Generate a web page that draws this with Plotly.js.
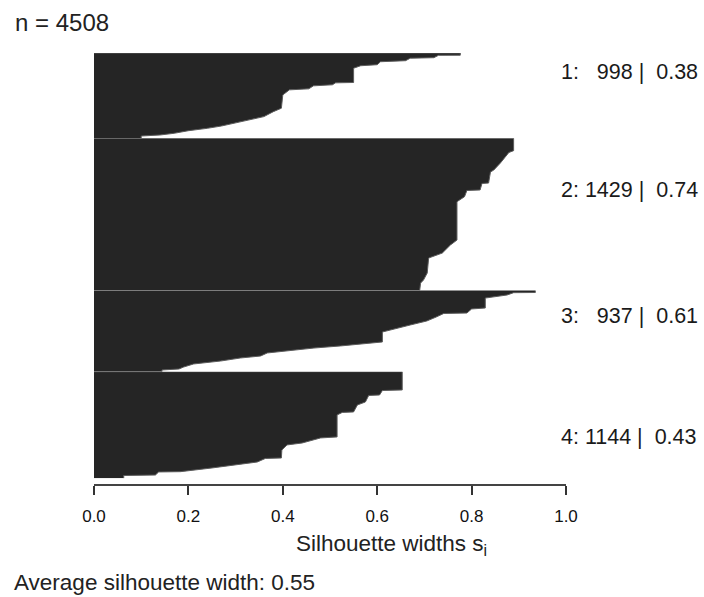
<!DOCTYPE html>
<html>
<head>
<meta charset="utf-8">
<script src="https://cdn.plot.ly/plotly-3.0.1.min.js"></script>
<style>html,body{margin:0;padding:0;background:#fff;}#chart{width:704px;height:597px;}</style>
</head>
<body>
<div id="chart"></div>
<script>
// ---- data ----
const clusterIds = [1, 2, 3, 4];
const clusterSizes = [998, 1429, 937, 1144];
const clusterAvg = [0.38, 0.74, 0.61, 0.43];
const totalN = 4508;
const avgWidth = 0.55;

// silhouette width profile (sorted, descending) read at observation ranks
const c1Rank  = [0, 26, 27, 55, 61, 90, 102, 137, 149, 178, 345, 349, 372, 384, 419, 431, 490, 646, 686, 744, 783, 822, 854, 881, 909, 939, 959, 971, 998];
const c1Width = [0.776, 0.776, 0.73, 0.72, 0.67, 0.66, 0.607, 0.60, 0.565, 0.55, 0.55, 0.512, 0.505, 0.465, 0.455, 0.414, 0.40, 0.397, 0.38, 0.36, 0.33, 0.30, 0.27, 0.24, 0.20, 0.17, 0.14, 0.10, 0.10];

const c2Rank  = [0, 116, 133, 232, 298, 316, 420, 424, 485, 490, 548, 595, 955, 1002, 1077, 1124, 1265, 1331, 1359, 1429];
const c2Width = [0.889, 0.889, 0.879, 0.861, 0.847, 0.84, 0.836, 0.822, 0.818, 0.79, 0.785, 0.769, 0.769, 0.755, 0.738, 0.709, 0.706, 0.698, 0.692, 0.69];

const c3Rank  = [0, 23, 25, 52, 87, 202, 213, 260, 265, 306, 352, 398, 444, 479, 594, 617, 640, 664, 687, 721, 756, 779, 814, 848, 883, 906, 917, 937];
const c3Width = [0.935, 0.935, 0.889, 0.875, 0.829, 0.829, 0.80, 0.79, 0.741, 0.725, 0.705, 0.67, 0.635, 0.611, 0.611, 0.571, 0.522, 0.466, 0.423, 0.367, 0.353, 0.31, 0.268, 0.211, 0.19, 0.18, 0.144, 0.144];

const c4Rank  = [0, 196, 202, 250, 255, 325, 357, 432, 437, 464, 700, 711, 733, 765, 786, 840, 926, 931, 969, 1001, 1033, 1073, 1076, 1109, 1114, 1144];
const c4Width = [0.653, 0.653, 0.611, 0.605, 0.582, 0.575, 0.558, 0.55, 0.526, 0.515, 0.515, 0.48, 0.466, 0.441, 0.409, 0.398, 0.397, 0.363, 0.346, 0.30, 0.25, 0.183, 0.137, 0.13, 0.063, 0.063];

const xTickVals = [0, 0.2, 0.4, 0.6, 0.8, 1.0];
const xTickText = ['0.0', '0.2', '0.4', '0.6', '0.8', '1.0'];

// ---- layout helpers ----
const ranks = [c1Rank, c2Rank, c3Rank, c4Rank];
const widths = [c1Width, c2Width, c3Width, c4Width];
const domains = [[0.8025, 1.0], [0.4502, 0.8025], [0.2623, 0.4502], [0.0155, 0.2623]];
const labelY = [0.956, 0.683, 0.391, 0.111];

const traces = clusterIds.map((id, i) => ({
  type: 'scatter',
  mode: 'lines',
  x: [0].concat(widths[i]),
  y: [0].concat(ranks[i]),
  yaxis: i === 0 ? 'y' : 'y' + (i + 1),
  fill: 'tozerox',
  fillcolor: '#252525',
  line: {color: '#5c5c5c', width: 1},
  hoverinfo: 'skip',
  showlegend: false
}));

const layout = {
  width: 704, height: 597,
  margin: {l: 94, r: 138, t: 53, b: 112, pad: 0},
  paper_bgcolor: '#ffffff', plot_bgcolor: '#ffffff',
  showlegend: false,
  font: {family: 'Liberation Sans, Arial, sans-serif', color: '#111'},
  xaxis: {
    range: [0, 1], anchor: 'free', position: 0,
    showgrid: false, zeroline: false,
    showline: true, linecolor: '#444', linewidth: 2,
    ticks: 'outside', ticklen: 9, tickwidth: 2, tickcolor: '#333',
    tickvals: xTickVals, ticktext: xTickText,
    ticklabelstandoff: 7,
    tickfont: {family: 'Liberation Sans Narrow, Liberation Sans, Arial, sans-serif', size: 17, color: '#111'}
  },
  annotations: []
};

clusterIds.forEach((id, i) => {
  const key = i === 0 ? 'yaxis' : 'yaxis' + (i + 1);
  layout[key] = {
    domain: domains[i], range: [clusterSizes[i], 0],
    visible: false, fixedrange: true
  };
  const nStr = String(clusterSizes[i]);
  const pad = ' '.repeat(1 + 2 * (4 - nStr.length));
  layout.annotations.push({
    xref: 'paper', yref: 'paper', x: 0.985, y: labelY[i],
    xanchor: 'left', yanchor: 'middle', showarrow: false,
    text: (id + ':' + pad + nStr + ' |  ' + clusterAvg[i].toFixed(2)).replace(/ /g, '&nbsp;'),
    font: {size: 21.5, color: '#1a1a1a', family: 'Liberation Sans, Arial, sans-serif'}
  });
});

layout.annotations.push({
  xref: 'paper', yref: 'paper', x: -0.171, y: 1.07,
  xanchor: 'left', yanchor: 'middle', showarrow: false,
  text: 'n = ' + totalN,
  font: {size: 24, color: '#222'}
});
layout.annotations.push({
  xref: 'paper', yref: 'paper', x: 0.424, y: -0.139,
  xanchor: 'left', yanchor: 'middle', showarrow: false,
  text: 'Silhouette widths s<sub>i</sub>',
  font: {size: 22.5, color: '#222'}
});
layout.annotations.push({
  xref: 'paper', yref: 'paper', x: -0.173, y: -0.226,
  xanchor: 'left', yanchor: 'middle', showarrow: false,
  text: 'Average silhouette width: ' + avgWidth.toFixed(2),
  font: {size: 22.5, color: '#222'}
});

Plotly.newPlot('chart', traces, layout, {displayModeBar: false, staticPlot: true});
</script>
</body>
</html>
